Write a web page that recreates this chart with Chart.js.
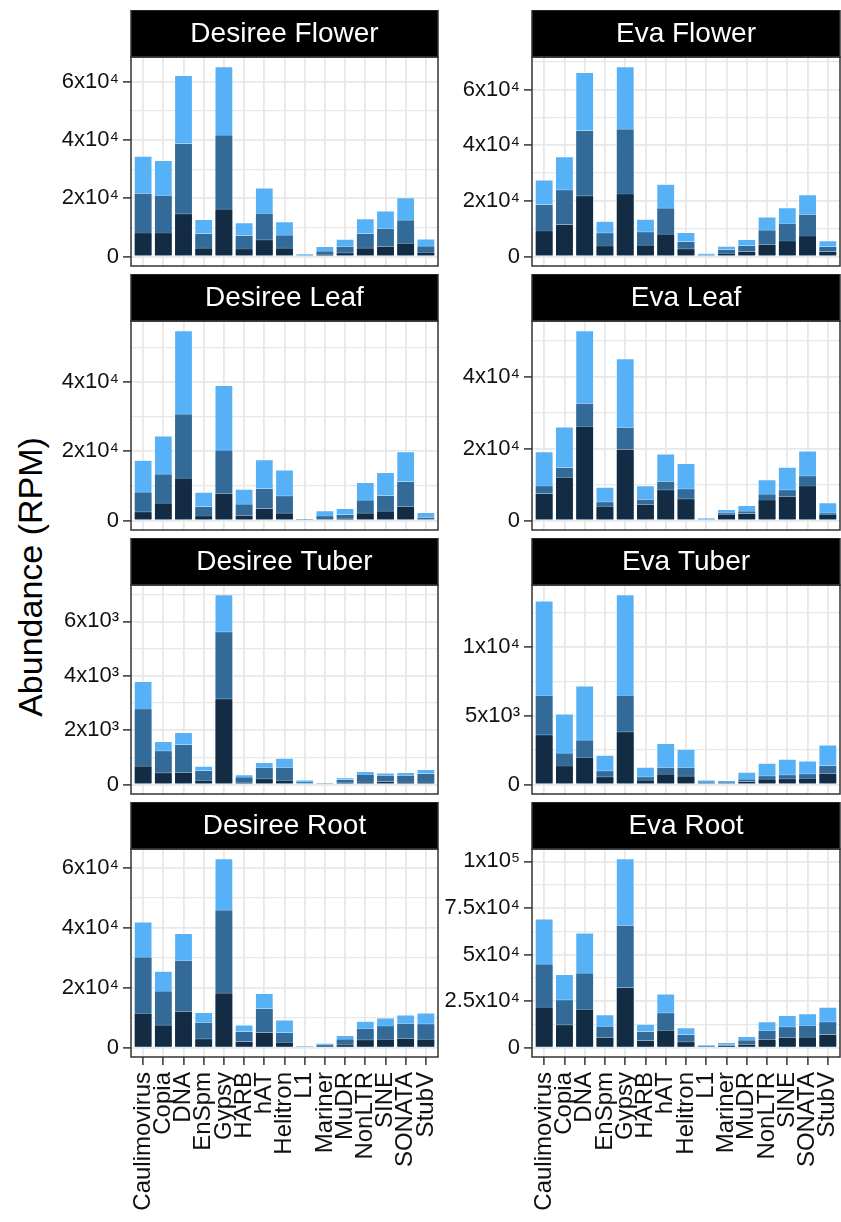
<!DOCTYPE html>
<html>
<head>
<meta charset="utf-8">
<script src="https://cdn.jsdelivr.net/npm/chart.js@4.4.1/dist/chart.umd.min.js"></script>
<style>
  body { margin: 0; background: #fff; }
  #fig { position: relative; width: 841px; height: 1222px; overflow: hidden; font-family: "Liberation Sans", Arial, sans-serif; }
  #fig canvas { position: absolute; }
  #ytitle { position: absolute; left: 30px; top: 577px; transform: translate(-50%, -50%) rotate(-90deg); font-size: 34px; white-space: nowrap; color: #000; }
</style>
</head>
<body>
<div id="fig"><div id="ytitle">Abundance (RPM)</div></div>
<script>
const categories = ['Caulimovirus', 'Copia', 'DNA', 'EnSpm', 'Gypsy', 'HARB', 'hAT', 'Helitron', 'L1', 'Mariner', 'MuDR', 'NonLTR', 'SINE', 'SONATA', 'StubV'];

// bar heights; every layer starts at 0, darker layers drawn in front
const desFlowerDark  = [8200, 8200, 14800, 3000, 16400, 2700, 5800, 3000, 200, 800, 1400, 3000, 3600, 4500, 1500];
const desFlowerMid   = [21800, 21000, 38900, 8000, 41800, 7300, 14900, 7500, 600, 2000, 3600, 8000, 9800, 12600, 3700];
const desFlowerLight = [34500, 33100, 62300, 12800, 65300, 11700, 23600, 12000, 1000, 3500, 6000, 13000, 15700, 20300, 6100];

const evaFlowerDark  = [9300, 11600, 21900, 3900, 22600, 4200, 8200, 2900, 350, 1200, 1900, 4500, 5700, 7500, 1900];
const evaFlowerMid   = [18800, 24100, 45400, 8600, 45900, 9000, 17500, 5500, 700, 2600, 4000, 9600, 11900, 15300, 3700];
const evaFlowerLight = [27600, 35900, 66200, 12700, 68300, 13500, 26000, 8700, 1200, 3800, 6200, 14300, 17600, 22300, 5700];

const desLeafDark  = [2600, 5100, 12300, 1400, 7900, 1600, 3500, 2200, 100, 400, 600, 2200, 2800, 4200, 400];
const desLeafMid   = [8300, 13500, 30800, 4100, 20400, 4800, 9300, 7200, 200, 1400, 1800, 6000, 7300, 11300, 1000];
const desLeafLight = [17400, 24400, 54800, 8200, 39000, 9100, 17600, 14600, 400, 2900, 3500, 11000, 13900, 19900, 2400];

const evaLeafDark  = [7600, 12000, 26200, 4000, 19900, 4600, 8600, 6100, 350, 1700, 2000, 5800, 6800, 9700, 1700];
const evaLeafMid   = [9700, 14800, 32700, 5300, 26000, 6000, 11000, 8900, 550, 2200, 2700, 7400, 8600, 12500, 2200];
const evaLeafLight = [19200, 26100, 52900, 9300, 45100, 9700, 18600, 15900, 800, 3100, 4200, 11400, 14900, 19400, 5000];

const desTuberDark  = [690, 440, 460, 150, 3160, 70, 220, 150, 40, 20, 70, 100, 120, 100, 100];
const desTuberMid   = [2790, 1250, 1480, 520, 5630, 280, 640, 640, 110, 50, 190, 380, 350, 350, 410];
const desTuberLight = [3800, 1590, 1920, 680, 6990, 370, 820, 970, 170, 70, 260, 490, 430, 450, 560];

const evaTuberDark  = [3630, 1370, 1970, 580, 3850, 340, 770, 630, 100, 100, 240, 410, 430, 460, 840];
const evaTuberMid   = [6470, 2310, 3250, 1010, 6490, 580, 1270, 1270, 190, 190, 410, 650, 720, 790, 1390];
const evaTuberLight = [13340, 5140, 7160, 2140, 13800, 1270, 3000, 2570, 340, 310, 910, 1560, 1850, 1730, 2880];

const desRootDark  = [11400, 7600, 12200, 3000, 18300, 2100, 5100, 1800, 100, 500, 1000, 2700, 2800, 3200, 2800];
const desRootMid   = [30300, 18900, 29200, 8500, 46000, 5400, 13100, 5100, 350, 1000, 2900, 6500, 7300, 8200, 8000];
const desRootLight = [42000, 25500, 38100, 11800, 63100, 7600, 18100, 9300, 600, 1500, 4100, 8800, 9900, 10900, 11600];

const evaRootDark  = [21900, 12400, 20500, 5700, 32400, 3900, 9200, 3200, 500, 1200, 1900, 4600, 5700, 5800, 7100];
const evaRootMid   = [45000, 25800, 40200, 11500, 65800, 8700, 18800, 7100, 1100, 1900, 4100, 9400, 11300, 11900, 14000];
const evaRootLight = [69200, 39300, 61600, 17700, 101600, 12600, 28900, 10800, 1600, 2800, 6000, 14000, 17300, 18200, 21800];

const flowerTicks = [0, 20000, 40000, 60000];
const leafTicks = [0, 20000, 40000];
const desTuberTicks = [0, 2000, 4000, 6000];
const evaTuberTicks = [0, 5000, 10000];
const desRootTicks = [0, 20000, 40000, 60000];
const evaRootTicks = [0, 25000, 50000, 75000, 100000];

const panels = [
    ['Desiree Flower', desFlowerDark, desFlowerMid, desFlowerLight, flowerTicks],
    ['Eva Flower', evaFlowerDark, evaFlowerMid, evaFlowerLight, flowerTicks],
    ['Desiree Leaf', desLeafDark, desLeafMid, desLeafLight, leafTicks],
    ['Eva Leaf', evaLeafDark, evaLeafMid, evaLeafLight, leafTicks],
    ['Desiree Tuber', desTuberDark, desTuberMid, desTuberLight, desTuberTicks],
    ['Eva Tuber', evaTuberDark, evaTuberMid, evaTuberLight, evaTuberTicks],
    ['Desiree Root', desRootDark, desRootMid, desRootLight, desRootTicks],
    ['Eva Root', evaRootDark, evaRootMid, evaRootLight, evaRootTicks]
];

const colors = ['#132B43', '#336A98', '#56B1F7'];
const FONT = '"Liberation Sans", Arial, sans-serif';
Chart.defaults.font.family = FONT;

const STRIP_H = 47, PLOT_H = 209, XAXIS_H = 165;
const rowTops = [10, 274, 538, 802];
const cols = [
    { left: 0, width: 440, axisW: 131, padR: 2 },
    { left: 440, width: 401, axisW: 92, padR: 1 }
];

const sup = { 3: '\u00B3', 4: '\u2074', 5: '\u2075' };
function sci(v) {
    if (v === 0) return '0';
    const e = Math.floor(Math.log10(v) + 1e-9);
    const m = +(v / Math.pow(10, e)).toFixed(2);
    return m + 'x10' + sup[e];
}

const stripPlugin = {
    id: 'strip',
    beforeDraw(chart, args, opts) {
        const { ctx, chartArea: a } = chart;
        ctx.save();
        ctx.fillStyle = '#000';
        ctx.fillRect(a.left, a.top - STRIP_H, a.right - a.left, STRIP_H);
        ctx.fillStyle = '#fff';
        ctx.font = '28px ' + FONT;
        ctx.textAlign = 'center';
        ctx.textBaseline = 'middle';
        ctx.fillText(opts.text, (a.left + a.right) / 2, a.top - STRIP_H / 2 + 1);
        ctx.restore();
    },
    afterDatasetsDraw(chart) {
        const { ctx, chartArea: a } = chart;
        ctx.save();
        ctx.strokeStyle = '#333';
        ctx.lineWidth = 1.5;
        ctx.strokeRect(a.left, a.top - STRIP_H, a.right - a.left, STRIP_H);
        ctx.strokeRect(a.left, a.top, a.right - a.left, a.bottom - a.top);
        ctx.restore();
    }
};

const fig = document.getElementById('fig');

panels.forEach((p, idx) => {
    const [title, dark, mid, light, majors] = p;
    const row = Math.floor(idx / 2), col = cols[idx % 2];
    const bottomRow = row === 3;

    const canvas = document.createElement('canvas');
    canvas.width = col.width;
    canvas.height = bottomRow ? 1222 - rowTops[row] : STRIP_H + PLOT_H + 3;
    canvas.style.left = col.left + 'px';
    canvas.style.top = rowTops[row] + 'px';
    fig.appendChild(canvas);

    const top = Math.max(...light);
    const step = majors[1] - majors[0];
    const yTicks = majors.map(v => ({ value: v }));
    for (let v = step / 2; v < top * 1.05; v += step) yTicks.push({ value: v, minor: true });
    yTicks.sort((a, b) => a.value - b.value);

    const toPts = arr => arr.map((v, i) => ({ x: i + 1, y: v }));

    new Chart(canvas, {
        type: 'bar',
        data: {
            datasets: [dark, mid, light].map((arr, k) => ({
                data: toPts(arr),
                backgroundColor: colors[k],
                borderColor: 'rgba(255,255,255,0.75)',
                borderWidth: 0.7,
                borderSkipped: 'start',
                grouped: false,
                categoryPercentage: 0.9,
                barPercentage: 1
            }))
        },
        options: {
            responsive: false,
            animation: false,
            events: [],
            layout: { padding: { left: 0, right: col.padR, top: STRIP_H, bottom: bottomRow ? 0 : 3 } },
            plugins: { legend: { display: false }, tooltip: { enabled: false }, strip: { text: title } },
            scales: {
                x: {
                    type: 'linear',
                    min: 0.4,
                    max: 15.6,
                    offset: false,
                    border: { display: false },
                    grid: { color: '#E8E8E8', lineWidth: 1.8, offset: false, drawTicks: bottomRow, tickLength: 8, tickColor: '#333', tickWidth: 1.5 },
                    afterBuildTicks: s => { s.ticks = categories.map((c, i) => ({ value: i + 1 })); },
                    afterFit: s => { s.height = bottomRow ? XAXIS_H : 0; s.paddingLeft = 0; s.paddingRight = 0; },
                    ticks: {
                        display: bottomRow,
                        autoSkip: false,
                        minRotation: 90,
                        maxRotation: 90,
                        padding: 7,
                        color: '#111',
                        font: { size: 24 },
                        callback: v => categories[Math.round(v) - 1]
                    }
                },
                y: {
                    min: -0.05 * top,
                    max: 1.05 * top,
                    border: { display: false },
                    grid: {
                        color: '#E8E8E8',
                        lineWidth: c => (c.tick && c.tick.minor ? 1.2 : 1.8),
                        tickLength: 8,
                        tickWidth: 1.5,
                        tickColor: c => (c.tick && c.tick.minor ? 'rgba(0,0,0,0)' : '#333')
                    },
                    afterBuildTicks: s => { s.ticks = yTicks.map(t => Object.assign({}, t)); },
                    afterFit: s => { s.width = col.axisW; s.paddingTop = 0; s.paddingBottom = 0; },
                    ticks: {
                        autoSkip: false,
                        padding: 4,
                        color: '#111',
                        font: { size: 22 },
                        callback: function (v, i, ticks) { return ticks[i].minor ? '' : sci(v); }
                    }
                }
            }
        },
        plugins: [stripPlugin]
    });
});
</script>
</body>
</html>
